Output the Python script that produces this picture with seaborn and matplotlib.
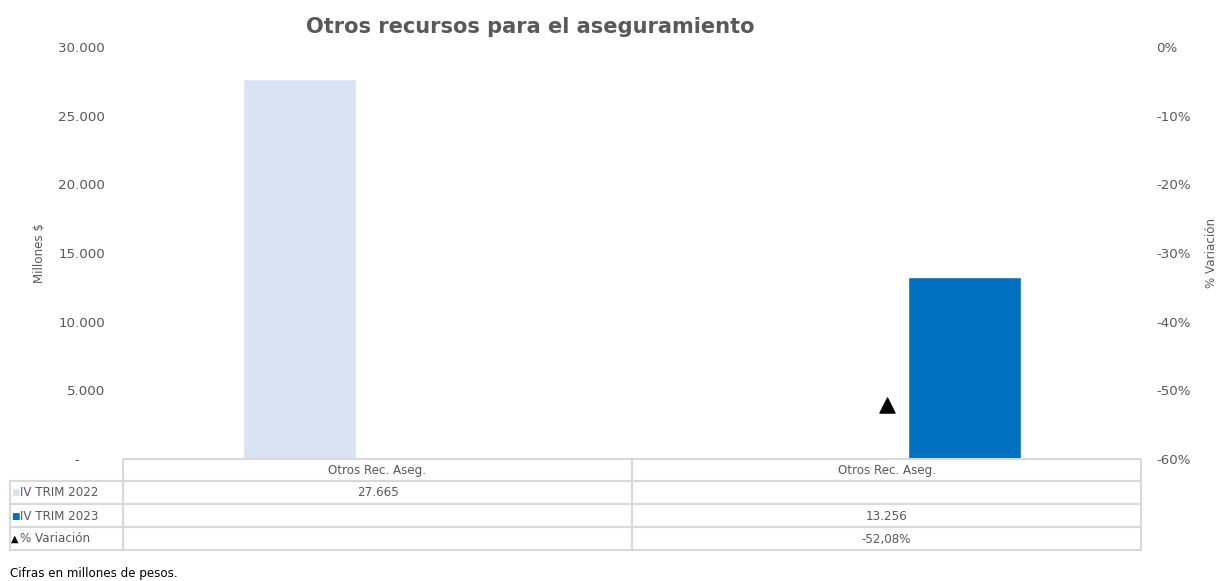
import numpy as np
import pandas as pd
import matplotlib
matplotlib.use("Agg")
import matplotlib.pyplot as plt
import matplotlib.transforms as mtransforms
from matplotlib.patches import Rectangle
import seaborn as sns

# ---- data ----
categories = ["Otros Rec. Aseg.", "Otros Rec. Aseg."]
series_names = ["IV TRIM 2022", "IV TRIM 2023"]
vals_2022 = [27665, np.nan]
vals_2023 = [np.nan, 13256]
variation = [np.nan, -52.08]
table_2022 = ["27.665", ""]
table_2023 = ["", "13.256"]
table_var = ["", "-52,08%"]
var_label = "% Variación"
left_ticks = [0, 5000, 10000, 15000, 20000, 25000, 30000]
left_ticklabels = ["-      ", "5.000", "10.000", "15.000", "20.000", "25.000", "30.000"]
right_ticks = [-0.6, -0.5, -0.4, -0.3, -0.2, -0.1, 0.0]
right_ticklabels = ["-60%", "-50%", "-40%", "-30%", "-20%", "-10%", "0%"]

C22 = "#DAE3F3"
C23 = "#0070C0"
GREY = "#595959"
EDGE = "#D9D9D9"

sns.set_style("white")
plt.rcParams["font.family"] = ["DejaVu Sans"]

W, H = 1219, 581
fig = plt.figure(figsize=(W / 100, H / 100), dpi=100)
ax = fig.add_axes([123 / W, 1 - 459 / H, 1018 / W, 412 / H])

slots = list(range(len(categories)))
df = pd.DataFrame({
    "slot": slots * 2,
    "serie": [series_names[0]] * len(slots) + [series_names[1]] * len(slots),
    "valor": vals_2022 + vals_2023,
})
sns.barplot(data=df, x="slot", y="valor", hue="serie", hue_order=series_names,
            palette=[C22, C23], width=0.612, gap=0.27, ax=ax, legend=False,
            saturation=1, errorbar=None)
ax.set_ylim(0, 30000)
ax.set_xlim(-0.5, len(slots) - 0.5)
ax.set_yticks(left_ticks)
ax.set_yticklabels(left_ticklabels, color=GREY, fontsize=9.6)
ax.tick_params(axis="y", length=0, pad=13)
ax.set_xticks([])
ax.set_xlabel("")
ax.set_ylabel("Millones $", color=GREY, fontsize=8.6, labelpad=9)
for s in ax.spines.values():
    s.set_visible(False)

ax2 = ax.twinx()
dfv = pd.DataFrame({"slot": slots, "var": [v / 100 for v in variation]}).dropna()
sns.scatterplot(data=dfv, x="slot", y="var", marker="^", s=120, color="black",
                edgecolor="black", ax=ax2, legend=False, zorder=5)
ax2.set_ylim(-0.6, 0)
ax2.set_xlim(-0.5, len(slots) - 0.5)
ax2.set_yticks(right_ticks)
ax2.set_yticklabels(right_ticklabels, color=GREY, fontsize=9.6)
ax2.tick_params(axis="y", length=0, pad=11)
ax2.set_ylabel(var_label, color=GREY, fontsize=8.6, labelpad=10)
ax2.set_xlabel("")
for s in ax2.spines.values():
    s.set_visible(False)

# ---- data table (x in data coords for category columns, y in figure pixels) ----
pix = mtransforms.Affine2D().scale(1 / W, -1 / H).translate(0, 1) + fig.transFigure
tr_cat = mtransforms.blended_transform_factory(ax.transData, pix)
tr_pix = pix

row_edges = [459, 481, 504, 527, 550]
rows = [categories, table_2022, table_2023, table_var]
row_labels = [None] + series_names + [var_label]

def cell_rect(x0, x1, y0, y1, transform):
    fig.patches.append(Rectangle((x0, y0), x1 - x0, y1 - y0, transform=transform,
                                 facecolor="white", edgecolor=EDGE, linewidth=1.5,
                                 zorder=2))

for r in range(len(rows)):
    y0, y1 = row_edges[r], row_edges[r + 1]
    yc = (y0 + y1) / 2 + 0.5
    for c, txt in enumerate(rows[r]):
        cell_rect(c - 0.5, c + 0.5, y0, y1, tr_cat)
        fig.text(c, yc, txt, transform=tr_cat, ha="center", va="center",
                 fontsize=8.6, color=GREY, zorder=3)
    if row_labels[r] is not None:
        cell_rect(10, 123, y0, y1, tr_pix)
        fig.text(20, yc, row_labels[r], transform=tr_pix, ha="left", va="center",
                 fontsize=8.6, color=GREY, zorder=3)

keys = [("■", C22, 6.5), ("■", C23, 6.5), ("▲", "black", 7)]
for (ch, col, fs), r in zip(keys, [1, 2, 3]):
    yc = (row_edges[r] + row_edges[r + 1]) / 2 + 0.5
    fig.text(11, yc, ch, transform=tr_pix, color=col, fontsize=fs,
             va="center", ha="left", zorder=3)

fig.text(530 / W, 1 - 27 / H, "Otros recursos para el aseguramiento", ha="center",
         va="center", fontsize=15.1, fontweight="bold", color=GREY)
fig.text(10 / W, 1 - 574 / H, "Cifras en millones de pesos.", ha="left", va="center",
         fontsize=8.6, color="black")

fig.savefig("out.png", dpi=100)
